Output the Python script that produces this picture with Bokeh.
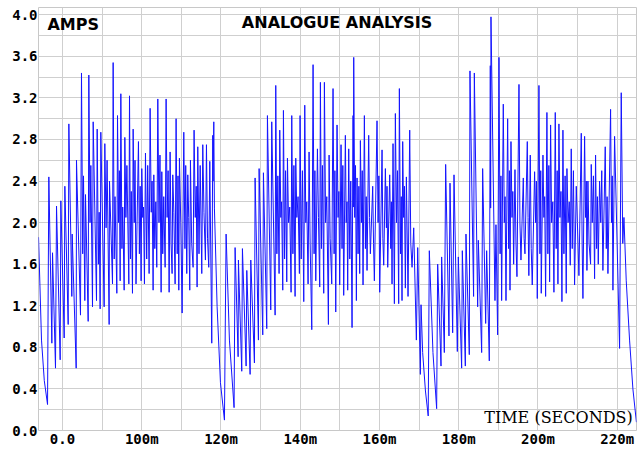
from bokeh.plotting import figure
from bokeh.models import ColumnDataSource, FixedTicker, Label, Range1d, NumeralTickFormatter
from bokeh.embed import file_html
from bokeh.resources import INLINE

# Current samples (time in ms, current in A), one list per charge/discharge cycle
cycle1 = [
    (73.95, 1.86), (74.70, 0.87), (75.40, 0.48), (76.22, 0.25),
    (76.55, 2.44), (77.31, 0.84), (77.48, 1.71), (78.23, 0.60),
    (78.49, 2.16), (79.41, 0.68), (79.58, 2.21), (80.42, 0.89),
    (80.59, 2.35), (81.43, 1.02), (81.60, 2.95), (82.35, 1.29),
    (82.44, 1.89), (83.45, 0.60), (83.53, 2.60), (84.54, 1.11),
    (84.79, 3.44), (85.10, 1.70), (85.30, 2.45), (85.63, 1.25),
    (85.80, 2.27), (86.48, 1.05), (86.64, 3.42), (86.95, 2.00),
    (87.15, 2.55), (87.57, 1.19), (87.74, 2.97), (88.58, 1.25),
    (88.75, 2.90), (89.05, 1.60), (89.25, 2.10), (89.50, 1.17),
    (89.67, 2.87), (90.51, 1.19), (90.68, 2.76), (91.00, 1.95),
    (91.25, 2.60), (91.77, 1.02), (91.86, 2.40), (92.62, 1.41),
    (92.78, 3.54), (93.05, 1.65), (93.25, 2.25), (93.71, 1.32),
    (93.88, 3.03), (94.15, 2.00), (94.35, 2.50), (94.55, 1.44),
    (94.72, 3.24), (95.00, 1.75), (95.20, 2.15), (95.56, 1.35),
    (95.73, 2.82), (96.00, 2.05), (96.25, 2.55), (96.74, 1.41),
    (96.91, 3.22), (97.15, 1.65), (97.35, 2.30), (97.66, 1.32),
    (97.83, 2.90), (98.10, 2.00), (98.30, 2.60), (98.55, 1.41),
    (99.17, 2.78), (99.40, 1.70), (99.60, 2.35), (99.84, 1.44),
    (100.01, 2.52), (100.25, 2.05), (100.45, 2.15), (100.68, 1.41),
    (100.94, 2.67), (101.25, 1.65), (101.50, 2.55), (101.86, 1.51),
    (102.11, 3.10), (102.40, 2.10), (102.60, 2.40), (102.87, 1.35),
    (103.04, 2.46), (103.30, 1.75), (103.55, 2.20), (103.79, 1.57),
    (104.05, 3.19), (104.35, 2.00), (104.60, 2.65), (104.89, 1.33),
    (105.06, 2.49), (105.30, 1.70), (105.55, 2.25), (105.90, 1.57),
    (106.15, 3.19), (106.40, 2.05), (106.65, 2.50), (106.91, 1.33),
    (107.16, 2.68), (107.40, 1.80), (107.66, 1.51), (107.83, 2.46),
    (108.10, 2.10), (108.42, 1.41), (108.67, 3.00), (108.95, 1.70),
    (109.15, 2.45), (109.35, 1.35), (109.51, 2.62), (109.85, 2.00),
    (110.19, 1.13), (110.61, 2.87), (110.90, 1.75), (111.10, 2.55),
    (111.36, 1.51), (111.62, 2.46), (111.85, 2.05), (112.12, 1.35),
    (112.29, 2.60), (112.60, 1.80), (112.96, 1.57), (113.21, 2.89),
    (113.50, 2.05), (113.75, 2.35), (113.97, 1.38), (114.14, 2.73),
    (114.45, 1.70), (114.75, 2.55), (115.15, 1.51), (115.40, 2.75),
    (115.70, 2.10), (116.07, 1.64), (116.33, 2.75), (116.60, 1.85),
    (116.91, 1.57), (117.17, 2.59), (117.67, 0.84), (117.92, 2.84),
    (118.01, 2.40), (118.18, 2.97), (118.34, 2.14), (119.02, 1.19),
    (119.86, 0.46), (120.87, 0.10),
]

cycle2 = [
    (121.29, 1.89), (122.13, 0.87), (123.30, 0.22), (123.56, 1.76),
    (124.32, 0.71), (124.40, 1.64), (125.24, 0.57), (125.41, 1.75),
    (126.34, 0.62), (126.51, 1.54), (127.35, 0.54), (127.52, 1.64),
    (128.44, 0.65), (128.61, 2.43), (129.45, 0.87), (129.62, 2.52),
    (130.54, 0.92), (130.71, 2.48), (131.55, 0.98), (131.72, 3.03),
    (132.56, 1.16), (132.81, 2.97), (133.66, 1.11), (133.82, 3.32),
    (134.10, 1.70), (134.35, 2.45), (134.66, 1.51), (134.83, 2.89),
    (135.10, 2.05), (135.30, 2.20), (135.59, 1.35), (135.76, 3.08),
    (136.05, 1.65), (136.30, 2.50), (136.60, 1.43), (136.77, 2.62),
    (137.05, 2.00), (137.35, 2.15), (137.69, 1.33), (137.86, 3.03),
    (138.15, 1.70), (138.40, 2.55), (138.70, 1.29), (138.87, 2.62),
    (139.15, 2.05), (139.45, 2.25), (139.79, 1.51), (139.96, 3.03),
    (140.25, 1.65), (140.55, 2.50), (140.89, 1.24), (141.14, 3.13),
    (141.40, 2.00), (141.65, 2.20), (141.98, 1.41), (142.23, 2.68),
    (142.50, 1.80), (142.91, 0.97), (143.24, 3.52), (143.50, 1.70),
    (143.70, 2.50), (143.92, 1.44), (144.34, 2.71), (144.60, 2.05),
    (144.92, 1.38), (145.09, 3.35), (145.35, 1.75), (145.60, 2.55),
    (145.93, 1.32), (146.10, 3.35), (146.40, 2.00), (146.70, 2.25),
    (147.11, 1.02), (147.28, 2.65), (147.55, 1.85), (147.95, 1.41),
    (148.28, 3.29), (148.55, 1.70), (148.75, 2.50), (148.96, 1.14),
    (149.29, 2.94), (149.55, 2.05), (149.75, 2.30), (149.96, 1.40),
    (150.30, 2.75), (150.55, 1.75), (150.75, 2.55), (150.97, 1.30),
    (151.39, 2.84), (151.60, 2.00), (151.80, 2.20), (151.98, 1.35),
    (152.24, 2.71), (152.50, 1.65), (152.75, 2.40), (153.08, 0.99),
    (153.33, 3.03), (153.41, 2.15), (153.50, 3.59), (153.75, 2.05),
    (153.95, 2.55), (154.17, 1.25), (154.34, 2.43), (154.60, 1.70),
    (154.80, 2.35), (155.01, 1.51), (155.18, 2.79), (155.45, 2.00),
    (155.65, 2.50), (155.85, 1.40), (156.19, 3.03), (156.45, 1.75),
    (156.65, 2.25), (156.86, 1.54), (157.28, 2.84), (157.50, 2.05),
    (157.70, 1.70), (158.29, 2.35), (158.50, 1.80), (158.71, 1.44),
    (159.38, 2.98), (159.65, 2.00), (159.85, 2.45), (160.06, 1.33),
    (160.65, 2.70), (160.85, 1.85), (161.07, 1.59), (161.49, 2.52),
    (161.75, 1.95), (161.90, 2.35), (162.08, 1.57), (162.58, 2.46),
    (162.85, 1.75), (163.00, 2.20), (163.17, 1.41), (163.42, 2.76),
    (163.76, 1.22), (164.01, 3.05), (164.30, 2.00), (164.55, 2.50),
    (164.85, 1.22), (165.02, 3.29), (165.30, 1.70), (165.50, 2.25),
    (165.69, 1.25), (165.86, 2.78), (166.10, 2.05), (166.30, 2.35),
    (166.53, 1.37), (166.79, 2.44), (167.21, 1.29), (167.63, 2.89),
    (167.90, 1.80), (168.22, 1.57), (168.64, 1.95), (169.31, 0.87),
    (169.65, 1.76), (170.32, 0.54), (170.49, 1.21), (170.90, 0.75),
    (171.60, 0.38), (172.30, 0.14),
]

cycle3 = [
    (172.58, 1.73), (173.50, 0.75), (174.43, 0.21), (174.69, 1.60),
    (175.53, 0.62), (175.69, 1.67), (176.37, 0.75), (176.70, 2.56),
    (177.54, 0.91), (177.80, 2.38), (178.47, 0.94), (178.81, 2.46),
    (179.65, 0.76), (179.90, 1.67), (180.74, 0.60), (180.91, 1.73),
    (181.67, 0.62), (181.83, 1.89), (182.67, 0.73), (182.84, 3.46),
    (183.75, 1.29), (183.94, 3.44), (184.78, 1.19), (184.95, 1.83),
    (185.79, 0.75), (186.04, 2.52), (186.80, 1.03), (187.05, 1.73),
    (187.72, 0.67), (187.97, 3.51), (188.06, 2.14), (188.14, 3.98),
    (189.15, 1.25), (189.40, 1.98), (189.82, 0.92), (190.16, 3.59),
    (190.45, 1.70), (190.65, 2.45), (190.83, 1.25), (191.25, 3.14),
    (191.50, 2.00), (191.70, 2.25), (191.93, 1.25), (192.35, 3.00),
    (192.60, 1.75), (192.80, 2.50), (192.94, 1.35), (193.19, 2.78),
    (193.45, 2.05), (193.65, 2.30), (193.86, 1.60), (194.20, 2.51),
    (194.45, 1.80), (194.70, 1.48), (195.21, 3.33), (195.45, 2.00),
    (195.71, 1.64), (196.30, 2.43), (196.50, 1.85), (196.72, 1.70),
    (197.31, 2.78), (197.50, 2.05), (197.70, 1.49), (198.06, 2.65),
    (198.30, 1.75), (198.56, 1.40), (199.15, 2.49), (199.40, 2.00),
    (199.60, 2.40), (199.83, 1.27), (200.25, 3.32), (200.50, 1.70),
    (200.70, 2.50), (200.83, 1.32), (201.26, 2.65), (201.50, 2.05),
    (201.70, 2.25), (201.93, 1.29), (202.26, 3.06), (202.50, 1.70),
    (202.75, 2.55), (202.94, 1.43), (203.19, 2.94), (203.45, 2.00),
    (203.75, 2.20), (204.03, 1.33), (204.37, 3.06), (204.60, 1.75),
    (204.85, 2.50), (205.04, 1.41), (205.29, 2.95), (205.55, 2.05),
    (205.80, 2.30), (206.05, 1.24), (206.30, 2.89), (206.55, 1.70),
    (206.85, 2.45), (207.14, 1.32), (207.31, 2.52), (207.60, 2.00),
    (207.90, 2.20), (208.15, 1.59), (208.40, 2.71), (208.65, 1.75),
    (208.95, 2.50), (209.24, 1.40), (209.67, 2.35), (209.95, 2.00),
    (210.34, 1.49), (210.93, 2.86), (211.15, 1.80), (211.35, 1.27),
    (211.77, 2.83), (212.00, 2.05), (212.20, 2.40), (212.36, 1.54),
    (212.61, 2.40), (212.90, 1.80), (213.28, 1.60), (213.45, 2.56),
    (213.70, 2.00), (214.00, 2.45), (214.29, 1.46), (214.54, 2.65),
    (214.80, 1.75), (215.00, 2.25), (215.22, 1.60), (215.55, 2.40),
    (215.85, 2.00), (216.10, 2.50), (216.39, 1.54), (216.98, 2.73),
    (217.25, 1.75), (217.45, 2.25), (217.66, 1.51), (218.33, 3.09),
    (218.55, 2.00), (218.75, 2.45), (218.92, 1.35), (219.34, 2.83),
    (220.60, 0.79), (221.02, 3.25), (221.40, 1.80), (221.70, 2.05),
    (222.28, 1.44), (223.12, 0.87), (223.96, 0.40), (224.85, 0.08),
]

# Axis ticks and labels
x_ticks = [80, 100, 120, 140, 160, 180, 200, 220]
x_tick_labels = ["0.0", "100m", "120m", "140m", "160m", "180m", "200m", "220m"]
x_grid = [80, 90, 100, 110, 120, 130, 140, 150, 160, 170, 180, 190, 200, 210, 220]
y_ticks = [0.0, 0.4, 0.8, 1.2, 1.6, 2.0, 2.4, 2.8, 3.2, 3.6, 4.0]
y_grid = [0.0, 0.2, 0.4, 0.6, 0.8, 1.0, 1.2, 1.4, 1.6, 1.8, 2.0,
          2.2, 2.4, 2.6, 2.8, 3.0, 3.2, 3.4, 3.6, 3.8, 4.0]

samples = cycle1 + cycle2 + cycle3
source = ColumnDataSource(data=dict(
    t=[s[0] for s in samples],
    amps=[s[1] for s in samples],
))

p = figure(
    width=639, height=449,
    output_backend="svg", toolbar_location=None,
    x_range=Range1d(73.94, 224.87), y_range=Range1d(0.0, 4.07),
    min_border_left=38, min_border_right=3,
    min_border_top=7, min_border_bottom=13,
    background_fill_color="white", border_fill_color="white",
)

p.line("t", "amps", source=source, line_color="#1414ff", line_width=1)

# Axes: labels only, no tick marks or axis lines
for ax in (p.xaxis[0], p.yaxis[0]):
    ax.axis_line_color = None
    ax.major_tick_line_color = None
    ax.minor_tick_line_color = None
    ax.major_tick_out = 0
    ax.major_tick_in = 0
    ax.major_label_text_font = "DejaVu Sans Mono"
    ax.major_label_text_font_style = "bold"
    ax.major_label_text_font_size = "14px"
    ax.major_label_text_color = "black"

p.yaxis.ticker = FixedTicker(ticks=y_ticks)
p.yaxis.formatter = NumeralTickFormatter(format="0.0")
p.yaxis.major_label_standoff = 1
p.xaxis.ticker = FixedTicker(ticks=x_ticks)
p.xaxis.major_label_overrides = dict(zip(x_ticks, x_tick_labels))
p.xaxis.major_label_standoff = 0

p.xgrid.ticker = FixedTicker(ticks=x_grid)
p.ygrid.ticker = FixedTicker(ticks=y_grid)
p.grid.grid_line_color = "#cfcfcf"
p.grid.grid_line_width = 1
p.outline_line_color = "#c8c8c8"

p.add_layout(Label(x=76.2, y=3.91, text="AMPS", text_font="DejaVu Sans",
                   text_font_size="16px", text_font_style="bold", text_align="left",
                   text_baseline="middle", text_color="black"))
p.add_layout(Label(x=149.3, y=3.93, text="ANALOGUE ANALYSIS", text_font="DejaVu Sans",
                   text_font_size="16px", text_font_style="bold", text_align="center",
                   text_baseline="middle", text_color="black"))
p.add_layout(Label(x=223.9, y=0.125, text="TIME (SECONDS)", text_font="DejaVu Serif",
                   text_font_size="16px", text_align="right",
                   text_baseline="middle", text_color="black"))

open("out.html", "w").write(file_html(p, INLINE))
